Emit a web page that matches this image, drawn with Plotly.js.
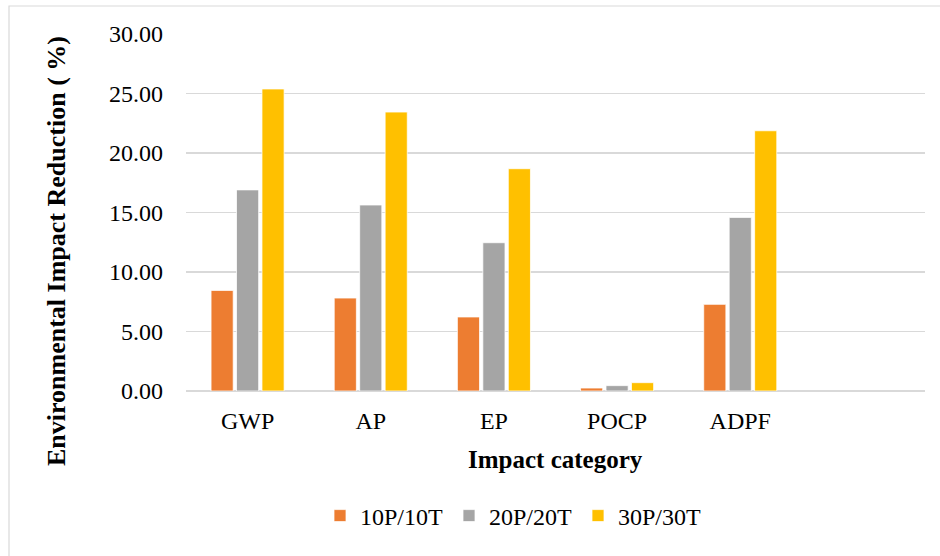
<!DOCTYPE html>
<html>
<head>
<meta charset="utf-8">
<script src="https://cdn.plot.ly/plotly-3.0.1.min.js"></script>
<style>
  html, body { margin: 0; padding: 0; background: #fff; }
  #chart { width: 940px; height: 556px; }
</style>
</head>
<body>
<div id="chart"></div>
<script>
const categories = ['GWP', 'AP', 'EP', 'POCP', 'ADPF'];
const seriesNames = ['10P/10T', '20P/20T', '30P/30T'];
const values10 = [8.45, 7.81, 6.22, 0.25, 7.28];
const values20 = [16.90, 15.63, 12.46, 0.45, 14.59];
const values30 = [25.38, 23.44, 18.68, 0.70, 21.87];
const colors = ['#ED7D31', '#A5A5A5', '#FFC000'];

const serif = 'Liberation Serif, Times New Roman, serif';
const allValues = [values10, values20, values30];

const traces = allValues.map((vals, i) => ({
  type: 'bar',
  name: seriesNames[i],
  x: categories,
  y: vals,
  marker: { color: colors[i], line: { color: '#ffffff', width: 0.75 } },
  hoverinfo: 'x+y+name'
}));

// Layout in pixels
const W = 940, H = 556;
const L = 186, R = 15, T = 34, B = 165;
const pw = W - L - R, ph = H - T - B;
const px = v => (v - L) / pw;
const py = v => (T + ph - v) / ph;

const layout = {
  width: W, height: H,
  margin: { l: L, r: R, t: T, b: B, pad: 0 },
  paper_bgcolor: '#ffffff',
  plot_bgcolor: '#ffffff',
  font: { family: serif, size: 24, color: '#000000' },
  barmode: 'group',
  bargap: 0.38,
  bargroupgap: 0.13,
  showlegend: true,
  legend: {
    orientation: 'h',
    x: px(320), xanchor: 'left',
    y: py(516), yanchor: 'middle',
    font: { family: serif, size: 24, color: '#000000' },
    entrywidth: 84, entrywidthmode: 'pixels',
    itemclick: false, itemdoubleclick: false
  },
  xaxis: {
    type: 'category',
    range: [-0.5, 5.5],
    showgrid: false,
    showline: false,
    zeroline: false,
    ticks: '',
    ticklabelstandoff: 13,
    tickfont: { family: serif, size: 24, color: '#000000' },
    fixedrange: true
  },
  yaxis: {
    range: [0, 30],
    dtick: 5,
    tick0: 0,
    tickformat: '.2f',
    showgrid: true,
    gridcolor: '#d9d9d9',
    gridwidth: 1.5,
    zeroline: true,
    zerolinecolor: '#d9d9d9',
    zerolinewidth: 1.5,
    showline: false,
    ticks: '',
    ticklabelstandoff: 22,
    tickfont: { family: serif, size: 24, color: '#000000' },
    fixedrange: true
  },
  shapes: [
    {
      type: 'rect', xref: 'paper', yref: 'paper',
      x0: px(9), x1: px(948), y0: py(570), y1: py(6),
      line: { color: '#d9d9d9', width: 1.2 },
      fillcolor: 'rgba(0,0,0,0)',
      layer: 'below'
    }
  ],
  annotations: [
    {
      text: '<b>Environmental Impact Reduction ( %)</b>',
      xref: 'paper', yref: 'paper',
      x: px(56), y: py(251),
      xanchor: 'center', yanchor: 'middle',
      textangle: -90,
      showarrow: false,
      font: { family: serif, size: 26, color: '#000000' }
    },
    {
      text: '<b>Impact category</b>',
      xref: 'paper', yref: 'paper',
      x: px(555), y: py(459),
      xanchor: 'center', yanchor: 'middle',
      showarrow: false,
      font: { family: serif, size: 25, color: '#000000' }
    }
  ]
};

Plotly.newPlot('chart', traces, layout, { displayModeBar: false, staticPlot: true });
</script>
</body>
</html>
